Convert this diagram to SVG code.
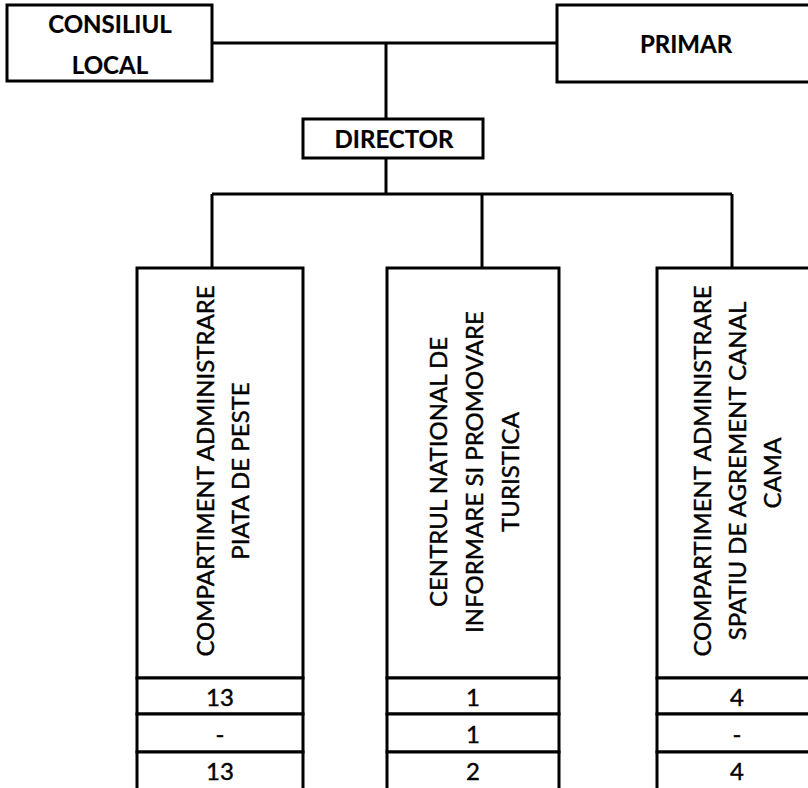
<svg xmlns="http://www.w3.org/2000/svg" width="808" height="788" viewBox="0 0 808 788">
<style>
.box{fill:#fff;stroke:#000;stroke-width:3}
.ln{fill:none;stroke:#000;stroke-width:3}
.t{font-family:Lato,"Open Sans",sans-serif;font-size:24px;fill:#000;stroke:#000;stroke-width:0.4;text-anchor:middle}
.b{font-weight:bold;stroke-width:0.2}
</style>
<rect width="808" height="788" fill="#fff"/>
<g id="connectors">
<path class="ln" d="M212 43H557M386 43V119M386 158V194M212 194H732M212 194V268M482 194V268M732 194V268"/>
</g>
<g id="consiliul">
<rect class="box" x="7" y="5" width="205" height="76"/>
<text class="t b" x="110" y="33">CONSILIUL</text>
<text class="t b" x="110" y="74">LOCAL</text>
</g>
<g id="primar">
<rect class="box" x="557" y="5" width="263" height="77"/>
<text class="t b" x="686" y="53">PRIMAR</text>
</g>
<g id="director">
<rect class="box" x="303" y="119" width="180" height="39"/>
<text class="t b" x="394" y="148">DIRECTOR</text>
</g>
<g id="col1">
<rect class="box" x="137" y="268" width="166" height="410"/>
<rect class="box" x="137" y="678" width="166" height="36"/>
<rect class="box" x="137" y="714" width="166" height="38"/>
<rect class="box" x="137" y="752" width="166" height="50"/>
<g transform="rotate(-90)">
<text class="t" x="-471" y="214">COMPARTIMENT ADMINISTRARE</text>
<text class="t" x="-471" y="249">PIATA DE PESTE</text>
</g>
<text class="t" x="220" y="706">13</text>
<text class="t" x="220" y="743">-</text>
<text class="t" x="220" y="780">13</text>
</g>
<g id="col2">
<rect class="box" x="387" y="268" width="172" height="410"/>
<rect class="box" x="387" y="678" width="172" height="36"/>
<rect class="box" x="387" y="714" width="172" height="38"/>
<rect class="box" x="387" y="752" width="172" height="50"/>
<g transform="rotate(-90)">
<text class="t" x="-472" y="447">CENTRUL NATIONAL DE</text>
<text class="t" x="-472" y="483">INFORMARE SI PROMOVARE</text>
<text class="t" x="-472" y="519">TURISTICA</text>
</g>
<text class="t" x="473" y="706">1</text>
<text class="t" x="473" y="743">1</text>
<text class="t" x="473" y="780">2</text>
</g>
<g id="col3">
<rect class="box" x="657" y="268" width="163" height="410"/>
<rect class="box" x="657" y="678" width="163" height="36"/>
<rect class="box" x="657" y="714" width="163" height="38"/>
<rect class="box" x="657" y="752" width="163" height="50"/>
<g transform="rotate(-90)">
<text class="t" x="-471" y="711">COMPARTIMENT ADMINISTRARE</text>
<text class="t" x="-471" y="746">SPATIU DE AGREMENT CANAL</text>
<text class="t" x="-473" y="781">CAMA</text>
</g>
<text class="t" x="737" y="706">4</text>
<text class="t" x="737" y="743">-</text>
<text class="t" x="737" y="780">4</text>
</g>
</svg>
